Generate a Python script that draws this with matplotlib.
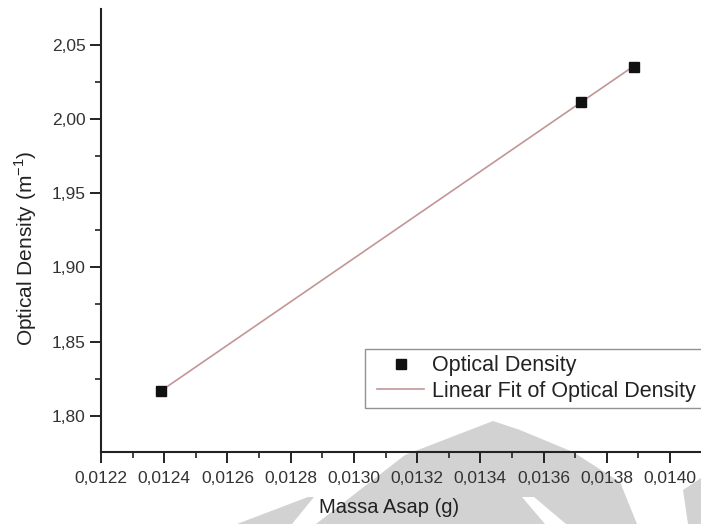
import numpy as np
import matplotlib
matplotlib.use("Agg")
import matplotlib.pyplot as plt
from matplotlib.patches import Polygon
from matplotlib.ticker import MultipleLocator, FuncFormatter
from matplotlib.legend_handler import HandlerLine2D

# Measured smoke mass vs optical density
massa_asap = [0.012389, 0.013718, 0.013885]
optical_density = [1.8166, 2.0117, 2.0354]

x_ticks = [0.0122, 0.0124, 0.0126, 0.0128, 0.0130, 0.0132, 0.0134, 0.0136, 0.0138, 0.0140]
y_ticks = [1.80, 1.85, 1.90, 1.95, 2.00, 2.05]

plt.rcParams['font.family'] = ['Liberation Sans', 'DejaVu Sans']
W, H = 701, 524
fig = plt.figure(figsize=(W / 100, H / 100), dpi=100)
fig.patch.set_facecolor('white')

# faint background emblem along the bottom of the page
def px(points):
    return [(x / W, 1 - y / H) for x, y in points]

gray = '#d2d2d2'
shapes = [
    [(237, 524), (308, 497), (314, 497), (292, 524)],
    [(316, 524), (405, 455), (493, 421), (520, 430), (573, 452), (620, 482), (637, 524)],
    [(683, 490), (701, 478), (701, 524), (688, 524)],
]
for s in shapes:
    fig.patches.append(Polygon(px(s), closed=True, transform=fig.transFigure,
                               facecolor=gray, edgecolor='none', zorder=-2))
fig.patches.append(Polygon(px([(522, 497), (534, 497), (566, 524), (545, 524)]), closed=True,
                           transform=fig.transFigure, facecolor='white', edgecolor='none', zorder=-1))

ax = fig.add_axes([101 / W, 1 - 452 / H, 600 / W, 443 / H])
ax.patch.set_alpha(0)

# linear regression of the measurements
slope, intercept = np.polyfit(massa_asap, optical_density, 1)
xf = np.array([min(massa_asap), max(massa_asap)])
fit_line, = ax.plot(xf, slope * xf + intercept, color='#c29696', lw=1.2, zorder=2,
                    label='Linear Fit of Optical Density')
pts, = ax.plot(massa_asap, optical_density, linestyle='none', marker='s', markersize=7,
               color='#111111', zorder=3, label='Optical Density')

ax.set_xlim(0.0122, 0.014098)
ax.set_ylim(1.7755, 2.0743)
ax.set_xticks(x_ticks)
ax.set_yticks(y_ticks)
ax.xaxis.set_minor_locator(MultipleLocator(0.0001))
ax.yaxis.set_minor_locator(MultipleLocator(0.025))
ax.xaxis.set_major_formatter(FuncFormatter(lambda v, p: f"{v:.4f}".replace('.', ',')))
ax.yaxis.set_major_formatter(FuncFormatter(lambda v, p: f"{v:.2f}".replace('.', ',')))

for side in ['top', 'right']:
    ax.spines[side].set_visible(False)
for side in ['left', 'bottom']:
    ax.spines[side].set_linewidth(1.5)
    ax.spines[side].set_color('#222222')

ax.tick_params(which='major', direction='out', length=8, width=1.4, color='#222222',
               labelsize=12.5, labelcolor='#333333', pad=3)
ax.tick_params(axis='x', which='major', pad=6)
ax.tick_params(which='minor', direction='out', length=4, width=1.2, color='#222222')

ax.set_xlabel('Massa Asap (g)', fontsize=14.5, color='#222222')
ax.set_ylabel('Optical Density (m$^{\\mathregular{-1}}$)', fontsize=15, color='#222222')
ax.xaxis.set_label_coords(0.48, -0.104)
ax.yaxis.set_label_coords(-0.104, 0.46)

leg = ax.legend([pts, fit_line], ['Optical Density', 'Linear Fit of Optical Density'],
                handler_map={pts: HandlerLine2D(xpad=0.28), fit_line: HandlerLine2D(xpad=0.28)},
                loc='lower left', bbox_to_anchor=(0.44, 0.099),
                fontsize=15.5, frameon=True, fancybox=False, borderpad=0.3,
                handlelength=2.45, handletextpad=0.38, labelspacing=0.2, borderaxespad=0)
leg.get_frame().set_edgecolor('#777777')
leg.get_frame().set_linewidth(1.0)
for t in leg.get_texts():
    t.set_color('#222222')

fig.savefig('out.png', dpi=100)
